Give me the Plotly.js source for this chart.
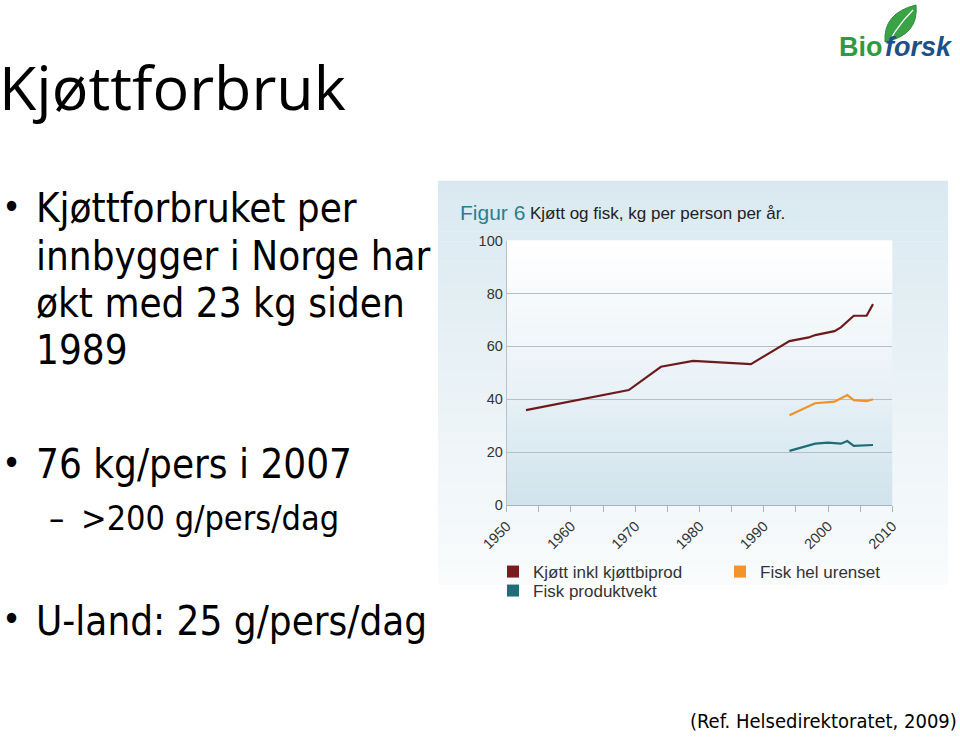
<!DOCTYPE html>
<html>
<head>
<meta charset="utf-8">
<script src="https://cdn.plot.ly/plotly-3.0.1.min.js"></script>
<style>html,body{margin:0;padding:0;background:#fff;}#chart{width:960px;height:743px;}</style>
</head>
<body>
<div id="chart"></div>
<script>
// ---- data ----
const meatYears = [1953, 1969, 1974, 1979, 1988, 1994, 1997, 1998, 2001, 2002, 2004, 2006, 2007];
const meatKg    = [35.9, 43.5, 52.3, 54.5, 53.3, 62.0, 63.4, 64.3, 65.8, 67.2, 71.6, 71.6, 76.0];
const fishWholeYears = [1994, 1998, 2001, 2002, 2003, 2004, 2006, 2007];
const fishWholeKg    = [34.0, 38.5, 39.1, 40.3, 41.6, 39.7, 39.3, 40.0];
const fishProdYears = [1994, 1998, 2000, 2002, 2003, 2004, 2007];
const fishProdKg    = [20.5, 23.2, 23.6, 23.2, 24.2, 22.4, 22.7];
const seriesNames = ["Kjøtt inkl kjøttbiprod", "Fisk hel urenset", "Fisk produktvekt"];
const xTickVals = [1950,1955,1960,1965,1970,1975,1980,1985,1990,1995,2000,2005,2010];
const xTickText = ["1950","","1960","","1970","","1980","","1990","","2000","","2010"];
const yTickVals = [0,20,40,60,80,100];

// ---- layout helpers ----
const W = 960, H = 743;
const px = x => x / W;
const py = y => 1 - y / H;
const colMeat = "#6e1a1c", colFishW = "#f0922c", colFishP = "#1f6b77";

function hex(c){return [parseInt(c.slice(1,3),16),parseInt(c.slice(3,5),16),parseInt(c.slice(5,7),16)];}
function mix(a,b,t){const A=hex(a),B=hex(b);return "rgb("+A.map((v,i)=>Math.round(v+(B[i]-v)*t)).join(",")+")";}

const shapes = [];
// panel background gradient (top light blue -> bottom near white)
const pTop = 181, pBot = 585, pL = 438, pR = 948, nP = 40;
for (let i = 0; i < nP; i++) {
  const y0 = pTop + (pBot - pTop) * i / nP, y1 = pTop + (pBot - pTop) * (i + 1) / nP;
  shapes.push({type:"rect", xref:"paper", yref:"paper", x0:px(pL), x1:px(pR), y0:py(y1), y1:py(y0) + 0.0005,
    fillcolor: mix("#dae9f1", "#f9fbfc", i / (nP - 1)), line:{width:0}, layer:"below"});
}
// plot area gradient (top white -> bottom light blue)
const nA = 40;
for (let i = 0; i < nA; i++) {
  const t = i / (nA - 1);
  let c;
  if (t < 0.45) c = mix("#d1e3ed", "#e9f2f7", t / 0.45); else c = mix("#e9f2f7", "#ffffff", (t - 0.45) / 0.55);
  shapes.push({type:"rect", xref:"x domain", yref:"y domain", x0:0, x1:1, y0:i/nA, y1:(i+1)/nA + 0.002,
    fillcolor:c, line:{width:0}, layer:"below"});
}
// Bioforsk leaf
shapes.push({type:"path", xref:"paper", yref:"paper",
  path: "M"+px(885)+","+py(42)+" Q"+px(883)+","+py(13)+" "+px(916)+","+py(5)+" Q"+px(919)+","+py(35)+" "+px(885)+","+py(42)+" Z",
  fillcolor:"#3aa346", line:{color:"#2c8a3a", width:1}});
shapes.push({type:"path", xref:"paper", yref:"paper",
  path: "M"+px(882)+","+py(56)+" Q"+px(893)+","+py(30)+" "+px(913)+","+py(10),
  line:{color:"#ffffff", width:1.2}});

const slideFont = "'DejaVu Sans Condensed', 'DejaVu Sans', sans-serif";
function txt(text, x, y, size, extra) {
  return Object.assign({text:text, x:px(x), y:py(y), xref:"paper", yref:"paper", xanchor:"left", yanchor:"middle",
    showarrow:false, font:{family:slideFont, size:size, color:"#000"}}, extra || {});
}
const S1 = 40, S2 = 34, SB = 36;
const annotations = [
  txt("Kjøttforbruk", -3, 87, 61, {font:{family:"'Open Sans', 'Noto Sans', sans-serif", size:61, color:"#000"}}),
  txt("•", 0, 206, SB),
  txt("Kjøttforbruket per", 34, 208, S1),
  txt("innbygger i Norge har", 34, 256, S1),
  txt("økt med 23 kg siden", 34, 303, S1),
  txt("1989", 34, 350, S1),
  txt("•", 0, 462, SB),
  txt("76 kg/pers i 2007", 34, 464, S1),
  txt("–", 47, 518, S2),
  txt(">200 g/pers/dag", 79, 518, S2),
  txt("•", 0, 618, SB),
  txt("U-land: 25 g/pers/dag", 34, 621, S1),
  txt("(Ref. Helsedirektoratet, 2009)", 959, 721, 20, {xanchor:"right"}),
  // chart title inside the panel
  txt("Figur 6", 458, 212, 21, {font:{family:"'Liberation Sans', Arial, sans-serif", size:21, color:"#2a7f8e"}}),
  txt("Kjøtt og fisk, kg per person per år.", 528, 213, 17, {font:{family:"'Liberation Sans', Arial, sans-serif", size:17, color:"#222"}}),
  // logo
  txt("<b>Bio</b>", 837, 47, 27, {font:{family:"'Liberation Sans', Arial, sans-serif", size:27, color:"#2f9a3f"}}),
  txt("<b><i>forsk</i></b>", 883, 47, 27, {font:{family:"'Liberation Sans', Arial, sans-serif", size:27, color:"#1e4f86"}})
];

const traces = [
  {x:meatYears, y:meatKg, type:"scatter", mode:"lines", name:seriesNames[0], line:{color:colMeat, width:2.2}, showlegend:false},
  {x:fishWholeYears, y:fishWholeKg, type:"scatter", mode:"lines", name:seriesNames[1], line:{color:colFishW, width:2.2}, showlegend:false},
  {x:fishProdYears, y:fishProdKg, type:"scatter", mode:"lines", name:seriesNames[2], line:{color:colFishP, width:2.2}, showlegend:false},
  // legend keys (square swatches)
  {x:[null], y:[null], type:"bar", name:seriesNames[0], marker:{color:"#7a1c1f"}, hoverinfo:"skip", legend:"legend"},
  {x:[null], y:[null], type:"bar", name:seriesNames[1], marker:{color:"#f2932b"}, hoverinfo:"skip", legend:"legend2"},
  {x:[null], y:[null], type:"bar", name:seriesNames[2], marker:{color:"#1d6e79"}, hoverinfo:"skip", legend:"legend3"}
];

const axisFont = {family:"'Liberation Sans', Arial, sans-serif", size:14.5, color:"#333"};
const legFont = {family:"'Liberation Sans', Arial, sans-serif", size:17, color:"#333"};
function leg(x, y) {
  return {orientation:"v", x:px(x), y:py(y), xanchor:"left", yanchor:"middle",
    bgcolor:"rgba(0,0,0,0)", font:legFont, borderwidth:0};
}
const layout = {
  width:W, height:H,
  margin:{l:0, r:0, t:0, b:0},
  paper_bgcolor:"#ffffff", plot_bgcolor:"rgba(0,0,0,0)",
  showlegend:true,
  xaxis:{domain:[px(506.7), px(892.3)], range:[1950, 2010], tickvals:xTickVals, ticktext:xTickText,
    tickangle:-45, ticks:"outside", ticklen:6, tickcolor:"#a9b3bb", tickwidth:1,
    showline:true, linecolor:"#a9b3bb", linewidth:1, showgrid:false, zeroline:false,
    tickfont:axisFont, fixedrange:true},
  yaxis:{domain:[py(505), py(240.7)], range:[0, 100], tickvals:yTickVals,
    showline:true, linecolor:"#b8c1c8", linewidth:1, showgrid:true, gridcolor:"#b6bfc7", gridwidth:1,
    zeroline:false, ticks:"", tickfont:axisFont, fixedrange:true},
  legend:leg(493, 572),
  legend2:leg(720, 572),
  legend3:leg(493, 591),
  shapes:shapes,
  annotations:annotations
};

Plotly.newPlot("chart", traces, layout, {displayModeBar:false, staticPlot:true});
</script>
</body>
</html>
